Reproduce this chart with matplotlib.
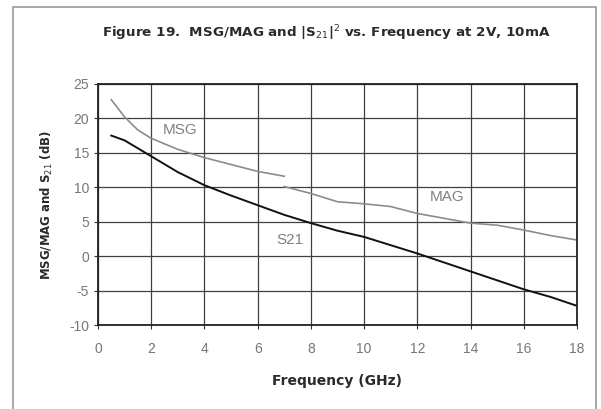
import matplotlib.pyplot as plt
from matplotlib.patches import Rectangle

plt.rcParams['font.family'] = ['Liberation Sans', 'DejaVu Sans']
plt.rcParams['axes.unicode_minus'] = False

# Frequency points (GHz) and gain values (dB)
msg_freq = [0.5, 1.0, 1.5, 2.0, 3.0, 4.0, 5.0, 6.0, 7.0]
msg_db = [22.7, 20.2, 18.3, 17.1, 15.5, 14.3, 13.3, 12.3, 11.6]

mag_freq = [7.0, 8.0, 9.0, 10.0, 11.0, 12.0, 13.0, 14.0, 15.0, 16.0, 17.0, 18.0]
mag_db = [10.1, 9.1, 7.9, 7.6, 7.2, 6.2, 5.5, 4.8, 4.5, 3.8, 3.0, 2.35]

s21_freq = [0.5, 1.0, 2.0, 3.0, 4.0, 5.0, 6.0, 7.0, 8.0, 9.0, 10.0, 11.0, 12.0, 13.0, 14.0, 15.0, 16.0, 17.0, 18.0]
s21_db = [17.5, 16.8, 14.5, 12.2, 10.3, 8.8, 7.4, 6.0, 4.8, 3.7, 2.8, 1.6, 0.4, -0.9, -2.2, -3.5, -4.8, -5.9, -7.2]

x_ticks = list(range(0, 19, 2))
y_ticks = list(range(-10, 26, 5))

fig = plt.figure(figsize=(6.01, 4.09), dpi=100)
ax = fig.add_axes([0.163, 0.205, 0.797, 0.59])

ax.plot(msg_freq, msg_db, color='#8c8c8c', lw=1.2)
ax.plot(mag_freq, mag_db, color='#8c8c8c', lw=1.2)
ax.plot(s21_freq, s21_db, color='#111111', lw=1.4)

ax.text(3.1, 18.3, 'MSG', color='#808080', fontsize=11, ha='center', va='center')
ax.text(13.1, 8.6, 'MAG', color='#808080', fontsize=11, ha='center', va='center')
ax.text(7.2, 2.4, 'S21', color='#808080', fontsize=11, ha='center', va='center')

ax.set_xlim(0, 18)
ax.set_ylim(-10, 25)
ax.set_xticks(x_ticks)
ax.set_yticks(y_ticks)
ax.grid(True, color='#404040', lw=0.9)
ax.set_axisbelow(True)
ax.tick_params(direction='out', length=3, width=0.8, colors='#333333',
               labelcolor='#777777', labelsize=10)
ax.tick_params(axis='x', pad=9)
for sp in ax.spines.values():
    sp.set_color('#222222')
    sp.set_linewidth(1.3)

ax.set_xlabel('Frequency (GHz)', fontsize=10, fontweight='bold', color='#2a2a2a',
              labelpad=13, family='DejaVu Sans')
ax.set_ylabel('MSG/MAG and S$_{21}$ (dB)', fontsize=8.5, fontweight='bold', color='#2a2a2a',
              labelpad=10, family='DejaVu Sans')

fig.text(0.543, 0.918, 'Figure 19.  MSG/MAG and |S$_{21}$|$^2$ vs. Frequency at 2V, 10mA',
         fontsize=9.7, fontweight='bold', color='#2a2a2a', ha='center', va='center',
         family='DejaVu Sans')

# outer border around the whole chart
fig.patches.append(Rectangle((0.022, -0.05), 0.97, 1.033, transform=fig.transFigure,
                             fill=False, edgecolor='#999999', lw=1.2))

fig.savefig('out.png', dpi=100)
